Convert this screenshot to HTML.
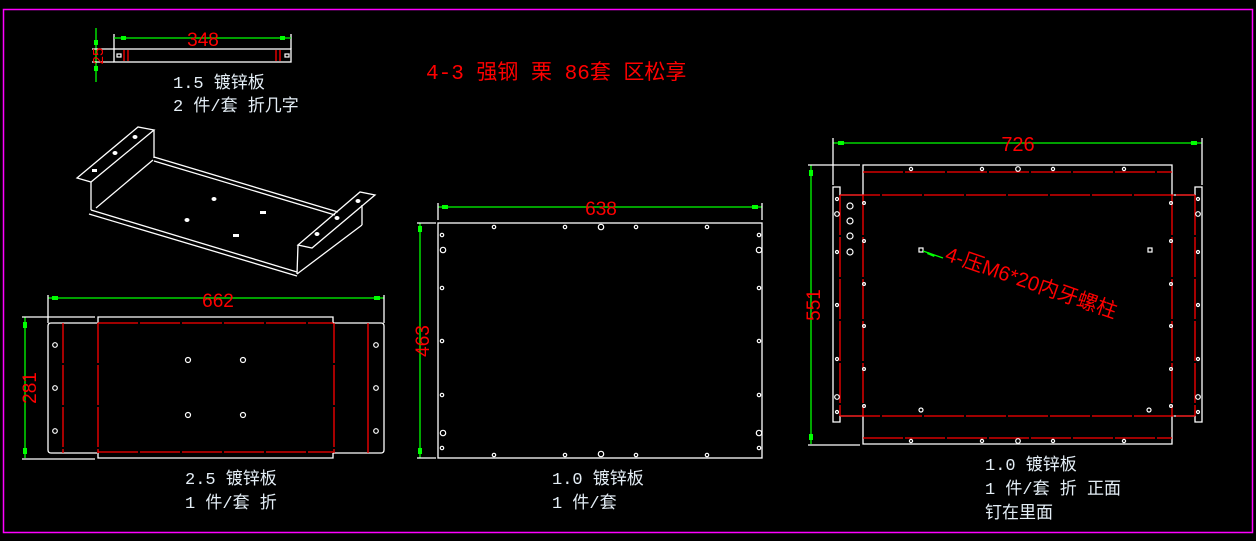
<!DOCTYPE html>
<html><head><meta charset="utf-8"><style>
html,body{margin:0;padding:0;background:#000;}
svg{display:block}
.w{stroke:#fff;stroke-width:1.3;fill:none}
.r{stroke:#f00;stroke-width:1.3;fill:none}
.rd{stroke:#f00;stroke-width:1.3;fill:none;stroke-dasharray:40 2}
.g{stroke:#0f0;stroke-width:1.3;fill:none}
.h{stroke:#fff;stroke-width:1.2;fill:none}
.t{fill:#e4eef6;font-family:"Liberation Mono","Noto Sans CJK SC",monospace;font-size:17px}
.d{fill:#f00;font-family:"Liberation Sans",sans-serif;font-size:19px}
</style></head><body>
<svg width="1256" height="541" viewBox="0 0 1256 541" xmlns="http://www.w3.org/2000/svg">
<rect x="3.5" y="9.5" width="1249" height="523" fill="none" stroke="#f0f" stroke-width="1.5"/>

<!-- top small part -->
<rect class="w" x="114" y="49" width="177" height="13"/>
<line class="r" x1="124" y1="50" x2="124" y2="61"/><line class="r" x1="128" y1="50" x2="128" y2="61"/>
<line class="r" x1="276" y1="50" x2="276" y2="61"/><line class="r" x1="280" y1="50" x2="280" y2="61"/>
<rect class="h" x="117" y="54" width="4" height="3"/><rect class="h" x="285" y="54" width="4" height="3"/>
<line class="w" x1="114" y1="34" x2="114" y2="49"/><line class="w" x1="291" y1="34" x2="291" y2="49"/>
<line class="g" x1="114" y1="38" x2="291" y2="38"/>
<rect x="121" y="36" width="5" height="4" fill="#0f0"/><rect x="280" y="36" width="5" height="4" fill="#0f0"/>
<text class="d" x="203" y="46" text-anchor="middle">348</text>
<line class="g" x1="96" y1="28" x2="96" y2="82"/>
<line class="w" x1="92" y1="49" x2="114" y2="49"/><line class="w" x1="92" y1="62" x2="114" y2="62"/>
<rect x="94" y="40" width="4" height="5" fill="#0f0"/><rect x="94" y="66" width="4" height="5" fill="#0f0"/>
<text class="d" x="0" y="0" transform="translate(103,56) rotate(-90)" text-anchor="middle" style="font-size:15px">25</text>
<text class="t" x="173" y="88">1.5 镀锌板</text>
<text class="t" x="173" y="111">2 件/套 折几字</text>
<text class="d" x="426" y="79" style="font-family:'Liberation Mono','Noto Sans CJK SC',monospace;font-size:21px">4-3 强钢 栗 86套 区松享</text>

<!-- 3D part -->
<g class="w">
<polygon points="77,178 138,127 154,130 91,182"/>
<line x1="91" y1="182" x2="91" y2="210"/><line x1="154" y1="130" x2="154" y2="158"/>
<line x1="91" y1="210" x2="297" y2="272"/><line x1="89" y1="214" x2="297" y2="276"/>
<line x1="96" y1="208" x2="153" y2="160"/>
<line x1="154" y1="157" x2="338" y2="212"/><line x1="154" y1="161" x2="335" y2="215"/>
<polygon points="298,245 360,192 375,195 312,248"/>
<line x1="362" y1="205" x2="362" y2="225"/><line x1="298" y1="245" x2="297" y2="274"/>
<line x1="297" y1="274" x2="362" y2="225"/>
</g>
<g fill="#fff">
<ellipse cx="135" cy="137" rx="2.5" ry="2"/><ellipse cx="115" cy="153" rx="2.5" ry="2"/><rect x="92" y="169" width="5" height="3"/>
<ellipse cx="214" cy="199" rx="2.5" ry="2"/><ellipse cx="187" cy="220" rx="2.5" ry="2"/>
<rect x="260" y="211" width="6" height="3"/><rect x="233" y="234" width="6" height="3"/>
<ellipse cx="358" cy="201" rx="2.5" ry="2"/><ellipse cx="337" cy="218" rx="2.5" ry="2"/><ellipse cx="317" cy="234" rx="2.5" ry="2"/>
</g>

<!-- bottom-left part -->
<line class="g" x1="48" y1="298" x2="384" y2="298"/>
<rect x="52" y="296" width="6" height="4" fill="#0f0"/><rect x="374" y="296" width="6" height="4" fill="#0f0"/>
<text class="d" x="218" y="307" text-anchor="middle">662</text>
<line class="w" x1="48" y1="295" x2="48" y2="323"/><line class="w" x1="384" y1="295" x2="384" y2="323"/>
<path class="w" d="M97,323 H51 Q48,323 48,326 V450 Q48,453 51,453 H97"/>
<path class="w" d="M333,323 H381 Q384,323 384,326 V450 Q384,453 381,453 H333"/>
<path class="w" d="M98,323 V317 H333 V323 M98,453 V458 H333 V453"/>
<line class="rd" x1="63" y1="323" x2="63" y2="453"/><line class="rd" x1="98" y1="323" x2="98" y2="453"/>
<line class="rd" x1="334" y1="323" x2="334" y2="453"/><line class="r" x1="368" y1="323" x2="368" y2="453"/>
<line class="rd" x1="98" y1="323" x2="333" y2="323"/><line class="rd" x1="98" y1="452" x2="333" y2="452"/>
<g class="h"><circle cx="55" cy="345" r="2.3"/><circle cx="55" cy="388" r="2.3"/><circle cx="55" cy="431" r="2.3"/>
<circle cx="376" cy="345" r="2.3"/><circle cx="376" cy="388" r="2.3"/><circle cx="376" cy="431" r="2.3"/>
<circle cx="188" cy="360" r="2.5"/><circle cx="243" cy="360" r="2.5"/><circle cx="188" cy="415" r="2.5"/><circle cx="243" cy="415" r="2.5"/></g>
<line class="g" x1="25" y1="317" x2="25" y2="458"/>
<line class="w" x1="22" y1="317" x2="95" y2="317"/><line class="w" x1="22" y1="459" x2="95" y2="459"/>
<rect x="23" y="322" width="4" height="6" fill="#0f0"/><rect x="23" y="448" width="4" height="6" fill="#0f0"/>
<text class="d" x="0" y="0" transform="translate(36,388) rotate(-90)" text-anchor="middle">281</text>
<text class="t" x="185" y="484">2.5 镀锌板</text>
<text class="t" x="185" y="508">1 件/套 折</text>

<!-- middle part -->
<rect class="w" x="438" y="223" width="324" height="235"/>
<line class="g" x1="438" y1="207" x2="762" y2="207"/>
<rect x="442" y="205" width="6" height="4" fill="#0f0"/><rect x="752" y="205" width="6" height="4" fill="#0f0"/>
<line class="w" x1="438" y1="203" x2="438" y2="220"/><line class="w" x1="762" y1="203" x2="762" y2="220"/>
<text class="d" x="601" y="215" text-anchor="middle">638</text>
<line class="g" x1="420" y1="223" x2="420" y2="458"/>
<line class="w" x1="417" y1="223" x2="436" y2="223"/><line class="w" x1="417" y1="458" x2="436" y2="458"/>
<rect x="418" y="226" width="4" height="6" fill="#0f0"/><rect x="418" y="448" width="4" height="6" fill="#0f0"/>
<text class="d" x="0" y="0" transform="translate(429,341) rotate(-90)" text-anchor="middle">463</text>
<g class="h">
<circle cx="494" cy="227" r="1.7"/><circle cx="565" cy="227" r="1.7"/><circle cx="601" cy="227" r="2.7"/><circle cx="636" cy="227" r="1.7"/><circle cx="707" cy="227" r="1.7"/>
<circle cx="494" cy="455" r="1.7"/><circle cx="565" cy="455" r="1.7"/><circle cx="601" cy="454" r="2.7"/><circle cx="636" cy="455" r="1.7"/><circle cx="707" cy="455" r="1.7"/>
<circle cx="442" cy="235" r="1.7"/><circle cx="443" cy="250" r="2.7"/><circle cx="442" cy="288" r="1.7"/><circle cx="442" cy="341" r="1.7"/><circle cx="442" cy="395" r="1.7"/><circle cx="443" cy="433" r="2.7"/><circle cx="442" cy="448" r="1.7"/>
<circle cx="759" cy="235" r="1.7"/><circle cx="759" cy="250" r="2.7"/><circle cx="759" cy="288" r="1.7"/><circle cx="759" cy="341" r="1.7"/><circle cx="759" cy="395" r="1.7"/><circle cx="759" cy="433" r="2.7"/><circle cx="759" cy="448" r="1.7"/>
</g>
<text class="t" x="552" y="484">1.0 镀锌板</text>
<text class="t" x="552" y="508">1 件/套</text>

<!-- right part -->
<line class="g" x1="833" y1="143" x2="1202" y2="143"/>
<rect x="838" y="141" width="6" height="4" fill="#0f0"/><rect x="1191" y="141" width="6" height="4" fill="#0f0"/>
<line class="w" x1="833" y1="138" x2="833" y2="185"/><line class="w" x1="1202" y1="138" x2="1202" y2="185"/>
<text class="d" x="1018" y="151" text-anchor="middle" style="font-size:20px">726</text>
<path class="w" d="M863,195 V165 H1172 V195 M863,416 V444 H1172 V416"/>
<path class="w" d="M863,195 H840 V187 H833 V422 H840 V416 H863"/>
<path class="w" d="M1172,195 H1195 V187 H1202 V422 H1195 V416 H1172"/>
<line class="rd" x1="863" y1="172" x2="1172" y2="172"/><line class="rd" x1="863" y1="438" x2="1172" y2="438"/>
<line class="rd" x1="840" y1="195" x2="1195" y2="195"/><line class="rd" x1="840" y1="416" x2="1195" y2="416"/>
<line class="rd" x1="840" y1="195" x2="840" y2="416"/><line class="rd" x1="1195" y1="195" x2="1195" y2="416"/>
<line class="rd" x1="863" y1="195" x2="863" y2="416"/><line class="rd" x1="1172" y1="195" x2="1172" y2="416"/>
<line class="g" x1="811" y1="165" x2="811" y2="444"/>
<line class="w" x1="808" y1="165" x2="860" y2="165"/><line class="w" x1="808" y1="445" x2="860" y2="445"/>
<rect x="809" y="170" width="4" height="6" fill="#0f0"/><rect x="809" y="434" width="4" height="6" fill="#0f0"/>
<text class="d" x="0" y="0" transform="translate(820,305) rotate(-90)" text-anchor="middle">551</text>
<g class="h">
<circle cx="911" cy="169" r="1.6"/><circle cx="982" cy="169" r="1.6"/><circle cx="1018" cy="169" r="2.3"/><circle cx="1053" cy="169" r="1.6"/><circle cx="1124" cy="169" r="1.6"/>
<circle cx="911" cy="441" r="1.6"/><circle cx="982" cy="441" r="1.6"/><circle cx="1018" cy="441" r="2.3"/><circle cx="1053" cy="441" r="1.6"/><circle cx="1124" cy="441" r="1.6"/>
<circle cx="837" cy="199" r="1.5"/><circle cx="837" cy="214" r="2.3"/><circle cx="837" cy="252" r="1.5"/><circle cx="837" cy="305" r="1.5"/><circle cx="837" cy="359" r="1.5"/><circle cx="837" cy="397" r="2.3"/><circle cx="837" cy="412" r="1.5"/>
<circle cx="1198" cy="199" r="1.5"/><circle cx="1198" cy="214" r="2.3"/><circle cx="1198" cy="252" r="1.5"/><circle cx="1198" cy="305" r="1.5"/><circle cx="1198" cy="359" r="1.5"/><circle cx="1198" cy="397" r="2.3"/><circle cx="1198" cy="412" r="1.5"/>
<circle cx="850" cy="206" r="3"/><circle cx="850" cy="221" r="3"/><circle cx="850" cy="236" r="3"/><circle cx="850" cy="252" r="3"/>
<circle cx="864" cy="203" r="1.4"/><circle cx="864" cy="241" r="1.4"/><circle cx="864" cy="284" r="1.4"/><circle cx="864" cy="326" r="1.4"/><circle cx="864" cy="369" r="1.4"/><circle cx="864" cy="406" r="1.4"/>
<circle cx="1171" cy="203" r="1.4"/><circle cx="1171" cy="241" r="1.4"/><circle cx="1171" cy="284" r="1.4"/><circle cx="1171" cy="326" r="1.4"/><circle cx="1171" cy="369" r="1.4"/><circle cx="1171" cy="406" r="1.4"/>
<rect x="919" y="248" width="4" height="4"/><rect x="1148" y="248" width="4" height="4"/>
<circle cx="921" cy="410" r="2"/><circle cx="1149" cy="410" r="2"/>
</g>
<line class="g" x1="923" y1="251" x2="943" y2="258"/>
<polygon points="928,252 935,255 934,257 927,254" fill="#0f0"/>
<text class="d" x="0" y="0" transform="translate(944,260) rotate(19)" style="font-family:'Liberation Sans','Noto Sans CJK SC',sans-serif;font-size:20.5px">4-压M6*20内牙螺柱</text>
<text class="t" x="985" y="470">1.0 镀锌板</text>
<text class="t" x="985" y="494">1 件/套 折 正面</text>
<text class="t" x="985" y="518">钉在里面</text>
</svg>
</body></html>
